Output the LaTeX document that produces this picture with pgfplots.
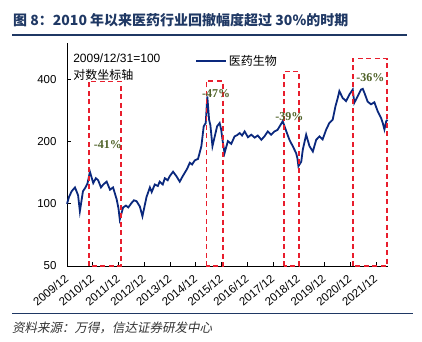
\documentclass[border=0pt]{standalone}
\usepackage{fontspec}
\setmainfont{Liberation Sans}
\newfontfamily\cjk{Noto Sans CJK SC}
\newfontfamily\cjkit[FakeSlant=0.2]{Noto Sans CJK SC}
\newfontfamily\serifb{Liberation Serif}
\usepackage{pgfplots}
\pgfplotsset{compat=1.18}

\definecolor{navy}{RGB}{10,40,125}
\definecolor{titleblue}{RGB}{31,56,100}
\definecolor{boxred}{RGB}{232,30,45}
\definecolor{lblgreen}{RGB}{79,98,40}

\begin{document}
\begin{tikzpicture}[x=1pt,y=1pt]
\useasboundingbox (0,0) rectangle (422,341);
\node[anchor=west, inner sep=0, text=titleblue, font=\cjk\bfseries\fontsize{14}{16}\selectfont] at (13,321) {图 8：2010 年以来医药行业回撤幅度超过 30\%的时期};
\draw[titleblue, line width=1.2pt] (12,306) -- (407,306);
\draw[titleblue, line width=0.8pt] (12,28) -- (413,28);
\node[anchor=west, inner sep=0, text=black!80, font=\cjkit\fontsize{12.5}{14}\selectfont] at (12,13) {资料来源：万得，信达证券研发中心};

\begin{axis}[
  at={(67pt,75pt)}, anchor=south west,
  scale only axis, width=320.5pt, height=223pt,
  ymode=log, ymin=50, ymax=600, xmin=0, xmax=12.45,
  axis x line*=bottom, axis y line*=left,
  axis line style={-, line width=0.8pt},
  tick align=inside, major tick length=4pt, tick style={black, line width=0.8pt},
  xtick={0,1,...,12},
  xticklabels={2009/12,2010/12,2011/12,2012/12,2013/12,2014/12,2015/12,2016/12,2017/12,2018/12,2019/12,2020/12,2021/12},
  ytick={50,100,200,400}, yticklabels={50,100,200,400},
  minor y tick num=0, yminorticks=false,
  tick label style={font=\fontsize{11.5}{14}\selectfont},
  xticklabel style={xshift=-3pt, yshift=-6pt, rotate=40, anchor=north east, inner sep=1pt},
  yticklabel style={xshift=-7pt},
  clip=false,
  legend style={at={(0.39,0.92)}, anchor=west, draw=none, fill=none, font=\cjk\fontsize{12}{14}\selectfont},
  legend image code/.code={\draw[#1] (0pt,0pt) -- (30pt,0pt);},
]
\addplot[navy, line width=1.8pt] coordinates {
(0,100) (0.08,108) (0.18,115) (0.31,120) (0.43,110) (0.50,92) (0.62,115) (0.72,120) (0.80,126) (0.89,143)
(1.02,126) (1.12,133) (1.21,130) (1.32,120) (1.41,124) (1.54,128) (1.67,117) (1.79,120) (1.93,105) (2.00,95)
(2.05,84) (2.18,96) (2.29,98) (2.38,96) (2.51,101) (2.60,104) (2.70,103) (2.83,97) (2.93,87) (3.09,108)
(3.22,120) (3.29,114) (3.41,124) (3.53,122) (3.60,128) (3.72,124) (3.80,133) (3.91,130) (3.99,136) (4.12,143)
(4.25,136) (4.38,128) (4.48,135) (4.57,141) (4.67,148) (4.77,158) (4.86,155) (4.96,162) (5.09,165) (5.22,190)
(5.31,237) (5.39,246) (5.45,331) (5.52,255) (5.57,240) (5.65,190) (5.74,212) (5.83,237) (5.93,246) (5.99,228)
(6.05,200) (6.12,176) (6.25,201) (6.38,195) (6.51,212) (6.61,215) (6.71,220) (6.80,214) (6.90,224) (7.03,210)
(7.16,216) (7.29,209) (7.41,214) (7.55,204) (7.67,212) (7.80,224) (7.93,216) (8.06,224) (8.18,228) (8.26,237)
(8.38,251) (8.52,224) (8.64,204) (8.77,190) (8.90,176) (8.95,166) (8.99,152) (9.10,160) (9.16,183) (9.29,216)
(9.42,190) (9.55,179) (9.68,204) (9.81,212) (9.93,205) (10.07,229) (10.19,246) (10.32,255) (10.43,297) (10.52,326)
(10.58,351) (10.71,325) (10.84,314) (10.97,338) (11.10,357) (11.16,308) (11.29,331) (11.42,357) (11.49,360) (11.55,345)
(11.68,312) (11.81,303) (11.94,310) (12.07,280) (12.20,260) (12.27,245) (12.33,229) (12.40,251) (12.45,255)
};
\addlegendentry{医药生物}
\addplot[boxred, dash pattern=on 5pt off 3.5pt, line width=1.5pt, forget plot] coordinates {(0.85,50) (0.85,391) (2.09,391) (2.09,50) (0.85,50)};
\addplot[boxred, dash pattern=on 5pt off 3.5pt, line width=1.5pt, forget plot] coordinates {(5.41,50) (5.41,392) (6.06,392) (6.06,50) (5.41,50)};
\addplot[boxred, dash pattern=on 5pt off 3.5pt, line width=1.5pt, forget plot] coordinates {(8.42,50) (8.42,436) (9.02,436) (9.02,50) (8.42,50)};
\addplot[boxred, dash pattern=on 5pt off 3.5pt, line width=1.5pt, forget plot] coordinates {(11.11,50) (11.11,506) (12.43,506) (12.43,50) (11.11,50)};
\node[text=lblgreen, font=\serifb\bfseries\fontsize{12}{14}\selectfont] at (axis cs:1.59,193) {-41\%};
\node[text=lblgreen, font=\serifb\bfseries\fontsize{12}{14}\selectfont] at (axis cs:5.79,342) {-47\%};
\node[text=lblgreen, font=\serifb\bfseries\fontsize{12}{14}\selectfont] at (axis cs:8.64,264) {-39\%};
\node[text=lblgreen, font=\serifb\bfseries\fontsize{12}{14}\selectfont] at (axis cs:11.78,409) {-36\%};
\node[anchor=west, inner sep=0, font=\fontsize{12}{14}\selectfont] at (rel axis cs:0.019,0.933) {2009/12/31=100};
\node[anchor=west, inner sep=0, font=\cjk\fontsize{12}{14}\selectfont] at (rel axis cs:0.019,0.857) {对数坐标轴};
\end{axis}
\end{tikzpicture}
\end{document}
